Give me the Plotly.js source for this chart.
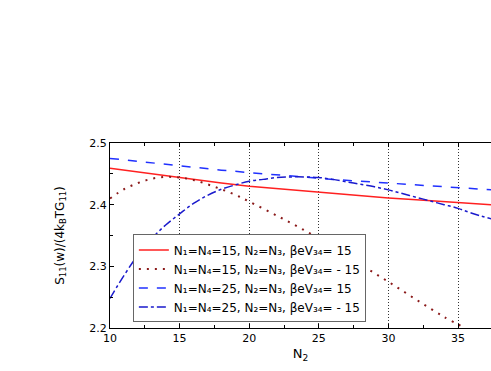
<!DOCTYPE html>
<html>
<head>
<meta charset="utf-8">
<script src="https://cdn.plot.ly/plotly-3.0.1.min.js"></script>
<style>
  body { margin: 0; background: #fff; }
  #chart { width: 491px; height: 371px; }
</style>
</head>
<body>
<div id="chart"></div>
<script>
// N2 values and curves
const n2Solid = [10, 12, 14, 16, 18, 20, 22, 24, 26, 28, 30, 32, 34, 36, 37.4];
const redSolid = [2.459, 2.453, 2.447, 2.440, 2.435, 2.430, 2.426, 2.422, 2.418, 2.414, 2.411, 2.408, 2.405, 2.402, 2.400];

const n2Dot = [10, 11, 12, 13, 14, 15, 16, 17, 18, 19, 20, 22, 24, 26, 28, 30, 32, 34, 35.5];
const redDot = [2.410, 2.425, 2.435, 2.442, 2.445, 2.444, 2.440, 2.433, 2.425, 2.416, 2.405, 2.382, 2.358, 2.332, 2.303, 2.275, 2.246, 2.218, 2.200];

const blueDash = [2.475, 2.470, 2.465, 2.461, 2.456, 2.452, 2.448, 2.445, 2.441, 2.438, 2.435, 2.432, 2.429, 2.426, 2.424];

const n2DashDot = [10, 11, 12, 13, 14, 15, 16, 17, 18, 19, 20, 21, 22, 23, 24, 25, 26, 27, 28, 29, 30, 31, 32, 33, 34, 35, 36, 37.4];
const blueDashDot = [2.248, 2.285, 2.318, 2.345, 2.367, 2.385, 2.402, 2.415, 2.425, 2.432, 2.438, 2.441, 2.444, 2.445, 2.445, 2.444, 2.441, 2.437, 2.433, 2.429, 2.424, 2.418, 2.412, 2.406, 2.400, 2.394, 2.386, 2.377];

const names = [
  'N₁=N₄=15, N₂=N₃, βeV₃₄= 15',
  'N₁=N₄=15, N₂=N₃, βeV₃₄= - 15',
  'N₁=N₄=25, N₂=N₃, βeV₃₄= 15',
  'N₁=N₄=25, N₂=N₃, βeV₃₄= - 15'
];

const traces = [
  { x: n2Solid, y: redSolid, name: names[0], mode: 'lines', line: { color: '#ff2020', width: 1.5 } },
  { x: n2Dot, y: redDot, name: names[1], mode: 'lines', line: { color: '#8b1a1a', width: 2, dash: '2px,6px', shape: 'spline' } },
  { x: n2Solid, y: blueDash, name: names[2], mode: 'lines', line: { color: '#2030ff', width: 1.5, dash: 'dash' } },
  { x: n2DashDot, y: blueDashDot, name: names[3], mode: 'lines', line: { color: '#1a1acc', width: 1.5, dash: 'dashdot', shape: 'spline' } }
];

const layout = {
  width: 491,
  height: 371,
  margin: { l: 110, r: 0, t: 143, b: 43 },
  paper_bgcolor: '#fff',
  plot_bgcolor: '#fff',
  font: { family: 'DejaVu Sans, Arial, sans-serif', color: '#000', size: 11 },
  showlegend: true,
  legend: {
    x: 0.06, y: 0.03, xanchor: 'left', yanchor: 'bottom',
    bgcolor: '#fff', bordercolor: '#666', borderwidth: 1,
    font: { size: 12 }, tracegroupgap: 0
  },
  xaxis: {
    range: [10, 37.37],
    tickvals: [10, 15, 20, 25, 30, 35],
    ticks: 'inside', ticklen: 4, tickcolor: '#000',
    minor: { dtick: 2.5, tick0: 10, ticks: 'inside', ticklen: 3, tickcolor: '#000' },
    showline: true, linecolor: '#000', linewidth: 1, mirror: 'ticks',
    showgrid: true, gridcolor: '#333', griddash: '1px,2px', gridwidth: 1,
    zeroline: false,
    tickfont: { size: 11 },
    title: { text: 'N<sub>2</sub>', font: { size: 13 }, standoff: 4 }
  },
  yaxis: {
    range: [2.2, 2.5],
    tickvals: [2.2, 2.3, 2.4, 2.5],
    ticktext: ['2.2', '2.3', '2.4', '2.5'],
    ticks: 'inside', ticklen: 4, tickcolor: '#000',
    minor: { dtick: 0.05, tick0: 2.2, ticks: 'inside', ticklen: 3, tickcolor: '#000' },
    showline: true, linecolor: '#000', linewidth: 1,
    showgrid: false, zeroline: false,
    tickfont: { size: 11 },
    title: { text: 'S<sub>11</sub>(w)/(4k<sub>B</sub>TG<sub>11</sub>)', font: { size: 12 }, standoff: 22 }
  }
};

Plotly.newPlot('chart', traces, layout, { displayModeBar: false });
</script>
</body>
</html>
